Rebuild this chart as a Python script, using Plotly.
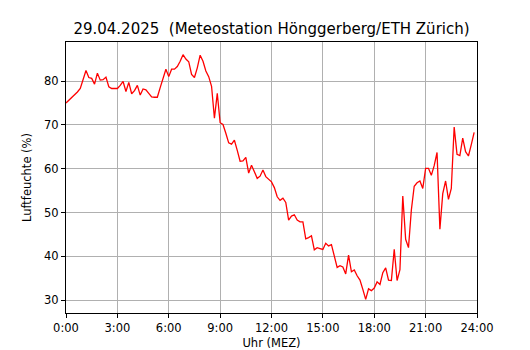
import plotly.graph_objects as go

humidity = [
    75.0, 75.6, 76.1, 76.8, 77.5, 78.3, 80.5, 82.4, 80.8, 80.6, 79.3, 81.8,
    80.2, 80.3, 80.9, 78.7, 78.3, 78.3, 78.3, 79.0, 79.9, 77.6, 79.7, 77.1,
    77.8, 79.0, 76.8, 78.2, 78.0, 77.2, 76.4, 76.3, 76.3, 78.5, 80.6, 82.7,
    81.0, 82.7, 82.7, 83.3, 84.5, 86.0, 85.0, 84.4, 81.5, 80.8, 83.0, 85.9,
    84.5, 82.3, 81.0, 78.8, 71.5, 77.2, 70.5, 70.1, 68.1, 65.9, 65.6, 66.5,
    64.2, 61.7, 61.8, 62.6, 59.0, 60.8, 59.3, 57.8, 58.3, 59.7, 58.2, 57.6,
    57.0, 55.7, 53.6, 52.8, 53.3, 52.3, 48.3, 49.2, 49.5, 48.3, 47.9, 47.9,
    44.0, 44.3, 44.7, 41.5, 42.0, 41.8, 41.6, 43.0, 42.4, 42.7, 39.8, 37.5,
    37.9, 37.6, 36.0, 40.3, 36.5, 36.9, 35.6, 34.6, 32.5, 30.2, 32.6, 32.2,
    32.8, 34.2, 33.6, 36.3, 37.4, 34.6, 34.5, 41.6, 34.5, 37.0, 53.8, 43.9,
    42.0, 50.6, 56.0, 56.8, 57.2, 55.5, 60.1, 60.1, 58.5, 60.7, 63.7, 46.2,
    54.3, 57.2, 53.0, 55.5, 69.5, 63.3, 63.0, 67.0, 63.9, 62.9, 65.5, 68.3,
]
hours = [i / 6 for i in range(len(humidity))]

x_tick_vals = [0, 3, 6, 9, 12, 15, 18, 21, 24]
x_tick_text = ["0:00", "3:00", "6:00", "9:00", "12:00", "15:00", "18:00", "21:00", "24:00"]
y_tick_vals = [30, 40, 50, 60, 70, 80]

title_text = "29.04.2025  (Meteostation Hönggerberg/ETH Zürich)"
x_label = "Uhr (MEZ)"
y_label = "Luftfeuchte (%)"

font_family = "DejaVu Sans"

fig = go.Figure()
fig.add_trace(go.Scatter(
    x=hours, y=humidity, mode="lines",
    line=dict(color="#ff0000", width=1.3),
    hoverinfo="skip", showlegend=False,
))

fig.update_layout(
    width=530, height=350,
    margin=dict(l=66, r=53, t=42, b=37, pad=0, autoexpand=False),
    paper_bgcolor="white", plot_bgcolor="white",
    font=dict(family=font_family, size=11.5, color="black"),
    title=dict(text=title_text, x=0.5, xref="paper", xanchor="center",
               y=1 - 29 / 350, yref="container", yanchor="middle",
               font=dict(size=15, family=font_family, color="black")),
    xaxis=dict(
        range=[0, 24], tickvals=x_tick_vals, ticktext=x_tick_text,
        showgrid=True, gridcolor="#b0b0b0", gridwidth=1,
        showline=True, linecolor="black", linewidth=1, mirror=True,
        ticks="outside", ticklen=4, tickcolor="black", tickwidth=1,
        zeroline=False, automargin=False,
        title=dict(text=x_label, standoff=7, font=dict(size=11.5)),
    ),
    yaxis=dict(
        range=[27.1, 88.9], tickvals=y_tick_vals,
        showgrid=True, gridcolor="#b0b0b0", gridwidth=1,
        showline=True, linecolor="black", linewidth=1, mirror=True,
        ticks="outside", ticklen=4, tickcolor="black", tickwidth=1,
        zeroline=False, automargin=False,
        title=dict(text=y_label, standoff=10, font=dict(size=11.5)),
    ),
)

fig.write_html("out.html", config={"displayModeBar": False},
               post_script="document.body.style.margin='0';")
